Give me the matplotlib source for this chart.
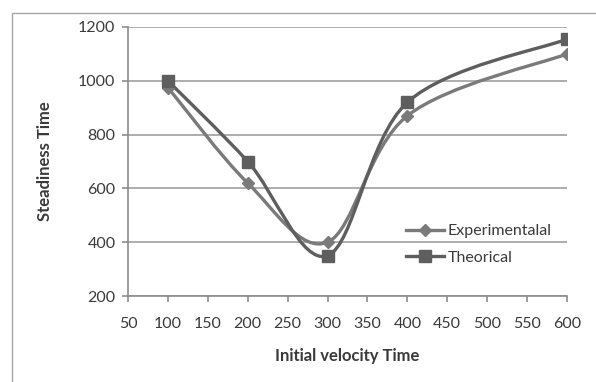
#!/usr/bin/env python3
# -*- coding: utf-8 -*-
"""
Steadiness time vs initial velocity (Excel-style smoothed lines)
"""

import numpy as np
import matplotlib
matplotlib.use("Agg")
import matplotlib.pyplot as plt
from matplotlib.path import Path
from matplotlib.patches import PathPatch, Rectangle
from matplotlib.lines import Line2D

# data
velocity = [100, 200, 300, 400, 600]
experimental = [975, 620, 400, 870, 1100]
theorical = [1000, 700, 350, 920, 1155]

x_ticks = [50, 100, 150, 200, 250, 300, 350, 400, 450, 500, 550, 600]
y_ticks = [200, 400, 600, 800, 1000, 1200]

plt.rcParams['font.family'] = ['Lato', 'DejaVu Sans']


def smooth_path(xs, ys):
    """Excel-like smoothing: cubic Bezier with Catmull-Rom control points"""
    pts = np.column_stack([xs, ys]).astype(float)
    verts = [pts[0]]
    codes = [Path.MOVETO]
    n = len(pts)
    for i in range(n - 1):
        p0 = pts[i - 1] if i > 0 else pts[i]
        p1 = pts[i]
        p2 = pts[i + 1]
        p3 = pts[i + 2] if i + 2 < n else pts[i + 1]
        c1 = p1 + (p2 - p0) / 6.0
        c2 = p2 - (p3 - p1) / 6.0
        verts += [c1, c2, p2]
        codes += [Path.CURVE4] * 3
    return Path(verts, codes)


fig = plt.figure(figsize=(5.96, 3.82), dpi=100)
ax = fig.add_axes([128 / 596, 86 / 382, 439 / 596, 269 / 382])

# chart area border (cropped at right/bottom)
fig.patches.append(Rectangle((12 / 596, -0.1), 1.2, (382 - 13) / 382 + 0.1,
                             transform=fig.transFigure, fill=False,
                             edgecolor='#a6a6a6', linewidth=1.0))

series = [
    (experimental, '#7a7a7a', 'D', 6.5, 'Experimentalal'),
    (theorical, '#5e5e5e', 's', 9, 'Theorical'),
]
handles = []
for vals, col, mk, ms, lab in series:
    ax.add_patch(PathPatch(smooth_path(velocity, vals), facecolor='none',
                           edgecolor=col, linewidth=2.4, zorder=3))
    ax.plot(velocity, vals, linestyle='none', marker=mk, markersize=ms,
            color=col, zorder=4)
    handles.append(Line2D([], [], color=col, linewidth=2.4, marker=mk,
                          markersize=ms, label=lab))

ax.set_xlim(50, 600)
ax.set_ylim(200, 1200)
ax.set_xticks(x_ticks)
ax.set_yticks(y_ticks)
ax.grid(axis='y', color='#a0a0a0', linewidth=1.2)
ax.set_axisbelow(True)

for s in ['top', 'right']:
    ax.spines[s].set_visible(False)
for s in ['left', 'bottom']:
    ax.spines[s].set_color('#8c8c8c')
    ax.spines[s].set_linewidth(1.2)

ax.tick_params(axis='both', colors='#8c8c8c', labelcolor='#3a3a3a',
               labelsize=11.5, length=4, width=1.2)
ax.tick_params(axis='x', pad=11)
ax.tick_params(axis='y', pad=5)

ax.set_xlabel('Initial velocity Time', fontsize=12, fontweight='bold',
              color='#3a3a3a', labelpad=12)
ax.set_ylabel('Steadiness Time', fontsize=12, fontweight='bold',
              color='#3a3a3a', labelpad=18)

ax.legend(handles=handles, loc='upper left', bbox_to_anchor=(0.6, 0.32),
          frameon=False, fontsize=11.5, handlelength=2.4, handletextpad=0.2,
          labelspacing=0.75, labelcolor='#3a3a3a')

fig.savefig('out.png', dpi=100, facecolor='white')
